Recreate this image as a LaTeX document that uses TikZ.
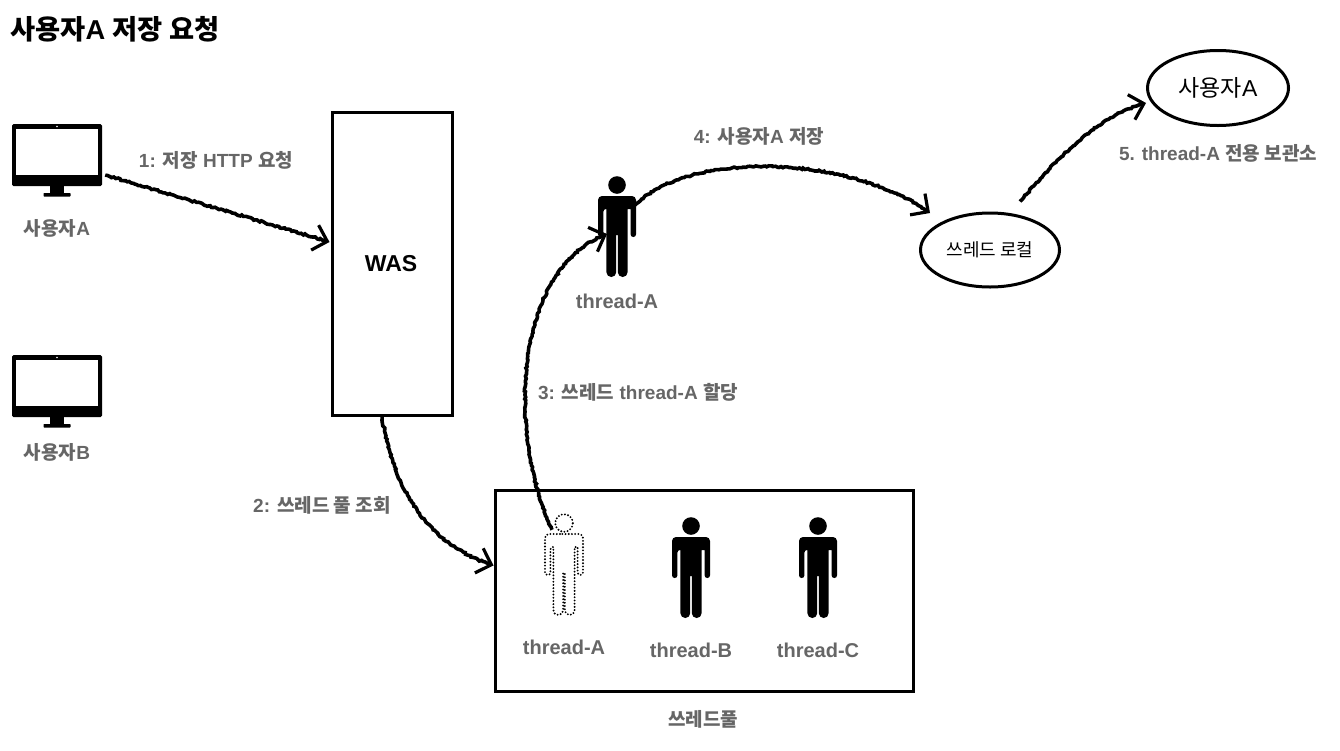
\documentclass[tikz,border=0pt]{standalone}
\usepackage{fontspec}
\setmainfont{Liberation Sans}
\newfontfamily\krfont{Noto Sans CJK KR}
\usetikzlibrary{arrows.meta,decorations.pathmorphing,shapes.geometric}
\newcommand{\kr}[1]{{\krfont #1}}
\definecolor{lbl}{HTML}{666666}
\tikzset{
  lab/.style={font=\bfseries\fontsize{19}{22}\selectfont,text=lbl,inner sep=0pt},
  tname/.style={font=\bfseries\fontsize{20}{22}\selectfont,text=lbl,inner sep=0pt},
  dark/.style={font=\fontsize{18}{20}\selectfont,text=black,inner sep=0pt},
  box/.style={draw=black,line width=3pt,rectangle,inner sep=0pt},
  oval/.style={draw=black,line width=3pt,ellipse,inner sep=0pt},
  ghostline/.style={draw=black,line width=2.1pt,line cap=round,dash pattern=on 0pt off 3.2pt,fill=none},
  solidfig/.style={fill=black,draw=none},
  holder/.style={rectangle,inner sep=0pt,minimum width=38pt,minimum height=102pt},
  monitor/.style={rectangle,fill=black,rounded corners=1.5pt,inner sep=0pt,minimum width=90pt,minimum height=62pt},
  sketch/.style={draw=black,line width=3.6pt,
    decoration={random steps,segment length=2pt,amplitude=0.8pt,post=lineto,post length=6pt,pre=lineto,pre length=1pt},
    decorate,
    -{Straight Barb[length=13pt,width=26pt,line width=3.2pt]}},
}
% \personfig{node name}{head x}{head y}{style}
\newcommand{\personfig}[4]{%
  \node[holder] (#1) at (#2,#3+41) {};
  \begin{scope}[shift={(#2,#3)}]
    \path[#4] (0,0) circle[radius=8.8pt];
    \path[#4,rounded corners=4pt]
      (0,11) -- (-19,11) [rounded corners=2.6pt] -- (-19,52) -- (-13.6,52) -- (-13.6,24) [sharp corners] -- (-10.6,24)
      [rounded corners=4.8pt] -- (-10.6,92) -- (-0.8,92) [sharp corners]
      -- (-0.8,50) -- (0.8,50) [rounded corners=4.8pt] -- (0.8,92) -- (10.6,92) [sharp corners] -- (10.6,24) -- (13.6,24)
      [rounded corners=2.6pt] -- (13.6,52) -- (19,52) [rounded corners=4pt] -- (19,11) -- cycle;
  \end{scope}}
% \monitorfig{node name}{centre x}{top y}
\newcommand{\monitorfig}[3]{%
  \node[monitor] (#1) at (#2,#3+31) {};
  \fill[white] (#2-41,#3+5) rectangle (#2+40.5,#3+51);
  \fill[white] (#2,#3+2.5) circle[radius=0.8pt];
  \fill[black] (#2-7,#3+62) -- (#2+7,#3+62) -- (#2+7,#3+69) -- (#2-7,#3+69) -- cycle;
  \fill[black,rounded corners=0.6pt] (#2-13.5,#3+69) rectangle (#2+13.5,#3+72.5);}
\begin{document}
\begin{tikzpicture}[x=1pt,y=-1pt]
\useasboundingbox (0,0) rectangle (1340,750);
\fill[white] (0,0) rectangle (1340,750);

\node[anchor=west,inner sep=0pt,font=\bfseries\fontsize{27.3}{30}\selectfont] (title) at (10,29) {\kr{사용자}A \kr{저장 요청}};

\monitorfig{monA}{57}{124}
\node[lab] (labA) at (57,228) {\kr{사용자}A};
\monitorfig{monB}{57}{355}
\node[lab] (labB) at (57,452) {\kr{사용자}B};

\node[box,minimum width=120pt,minimum height=303pt] (was) at (392,264) {};
\node[inner sep=0pt,font=\bfseries\fontsize{23}{25}\selectfont] (wastxt) at (391,264) {WAS};

\node[box,minimum width=418pt,minimum height=201pt] (pool) at (704,590.5) {};
\node[lab] (poolLab) at (703,719) {\kr{쓰레드풀}};

\personfig{tActive}{617}{185}{solidfig}
\personfig{tGhost}{564}{523}{ghostline}
\personfig{tB}{691}{526}{solidfig}
\personfig{tC}{818}{526}{solidfig}
\node[tname] (nActive) at (617,301) {thread-A};
\node[tname] (nA) at (564,647) {thread-A};
\node[tname] (nB) at (691,650) {thread-B};
\node[tname] (nC) at (818,650) {thread-C};

\node[oval,minimum width=139pt,minimum height=74pt] (local) at (990,250) {};
\node[dark] (localTxt) at (990,250) {\kr{쓰레드 로컬}};
\node[oval,minimum width=141pt,minimum height=75pt] (user) at (1218,88) {};
\node[inner sep=0pt,font=\fontsize{23}{26}\selectfont] (userTxt) at (1218,88) {\kr{사용자}A};

\node[lab] (l1) at (216,160) {1: \kr{저장} HTTP \kr{요청}};
\node[lab] (l2) at (322,505) {2: \kr{쓰레드 풀 조회}};
\node[lab] (l3) at (638,392) {3: \kr{쓰레드} thread-A \kr{할당}};
\node[lab] (l4) at (759,136) {4: \kr{사용자}A \kr{저장}};
\node[lab] (l5) at (1218,153) {5. thread-A \kr{전용 보관소}};

\path[sketch] ([xshift=3pt,yshift=-20pt]monA.east) -- ([xshift=-1pt,yshift=22pt]was.west);
\path[sketch] ([xshift=-10pt]was.south) .. controls (395,495) and (430,545) .. ([yshift=25pt]pool.west);
\path[sketch] ([xshift=-12pt,yshift=-17pt]tGhost.north) .. controls (503,420) and (520,265) .. ([xshift=-10pt,yshift=-8pt]tActive.center);
\path[sketch] ([xshift=18pt,yshift=21pt]tActive.center) .. controls (690,150) and (850,155) .. ([xshift=-60pt,yshift=37pt]local.center);
\path[sketch] ([xshift=30pt,yshift=10pt]local.north) .. controls (1060,155) and (1100,115) .. ([yshift=-15pt]user.west);
\end{tikzpicture}
\end{document}
